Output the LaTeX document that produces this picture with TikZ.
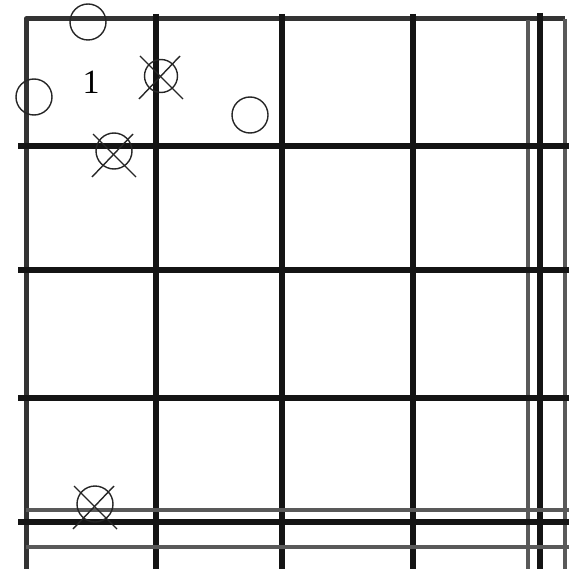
\documentclass[tikz,border=0pt]{standalone}
\usepackage{fontspec}
\setmainfont{Liberation Serif}
\usetikzlibrary{calc}
\begin{document}
\begin{tikzpicture}[x=1pt,y=-1pt,
  blk/.style={line width=5.5pt,black!92},
  gry/.style={line width=4.5pt,black!65},
  ring/.style={draw=black!85,line width=1.4pt,circle,inner sep=0pt,minimum size=36pt},
  crossln/.style={draw=black!85,line width=1.4pt}]
\useasboundingbox (0,0) rectangle (569,569);
% frame
\draw[line width=5pt,black!80,line join=round] (26,569) -- (26,19) -- (565,19);
\draw[gry,line width=3.5pt] (565,19) -- (565,569);
% vertical lines
\draw[blk] (156,14) -- (156,569);
\draw[blk] (282,14) -- (282,569);
\draw[blk] (413,14) -- (413,569);
\draw[gry] (528,20) -- (528,569);
\draw[blk] (540,13) -- (540,569);
% horizontal lines
\draw[blk] (18,146) -- (569,146);
\draw[blk] (18,270) -- (569,270);
\draw[blk] (18,398) -- (569,398);
\draw[gry] (26,510) -- (569,510);
\draw[blk] (18,522) -- (569,522);
\draw[gry] (26,547) -- (569,547);
% label
\node[inner sep=0pt] (t1) at (91,82) {\fontsize{34}{34}\selectfont 1};
% plain circles
\node[ring] (o1) at (88,22) {};
\node[ring] (o2) at (34,97) {};
\node[ring] (o3) at (250,115) {};
% crossed circles
\node[ring,minimum size=33pt] (x1) at (161,76) {};
\node[ring] (x2) at (114,151) {};
\node[ring] (x3) at (95,504) {};
\foreach \n/\dx/\dy in {x1/0/1, x2/0/4, x3/0/3}{
  \draw[crossln] ([shift={(\dx-21,\dy-21)}]\n.center) -- ([shift={(\dx+22,\dy+22)}]\n.center);
  \draw[crossln] ([shift={(\dx+19,\dy-21)}]\n.center) -- ([shift={(\dx-22,\dy+22)}]\n.center);
}
\end{tikzpicture}
\end{document}
